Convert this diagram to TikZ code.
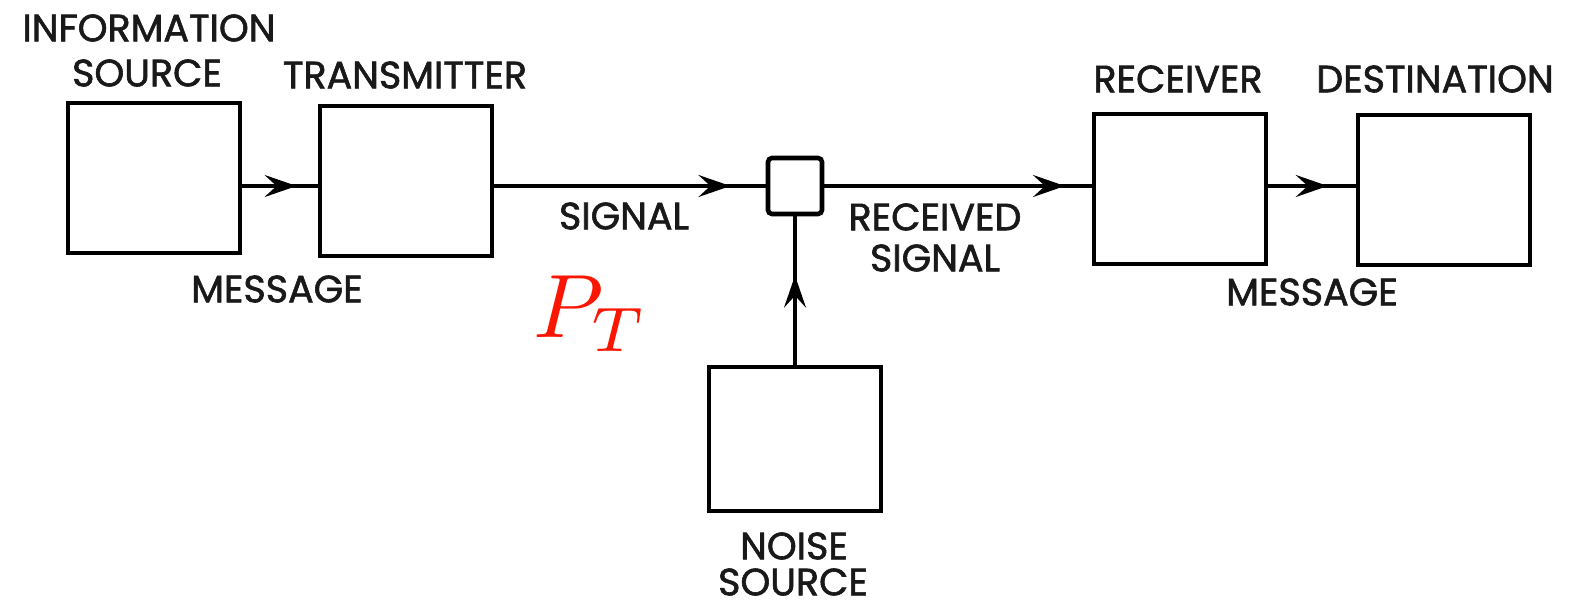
\documentclass[tikz,border=0pt]{standalone}
\usepackage{fontspec}
\setmainfont{Poppins}[FakeBold=1.6]
\usetikzlibrary{arrows.meta,calc}
\definecolor{ptred}{RGB}{250,22,0}
\begin{document}
\begin{tikzpicture}[x=0.5pt,y=-0.5pt,
  blk/.style={draw=black,line width=2.3pt,minimum width=86pt,minimum height=75pt,inner sep=0pt,fill=white},
  lbl/.style={font=\fontsize{19}{19}\selectfont,inner sep=0pt,text=black!90},
  conn/.style={line width=1.7pt},
  tip/.style={line width=1.7pt,-{Stealth[length=16pt,width=11pt,inset=6pt]}}]
\useasboundingbox (0,0) rectangle (1588,608);
% boxes
\node[blk] (is) at (154,178) {};
\node[blk] (tx) at (406,181) {};
\node[blk,minimum width=27pt,minimum height=28pt,rounded corners=2pt] (sm) at (795,186) {};
\node[blk] (rx) at (1180,189) {};
\node[blk] (ds) at (1444,190) {};
\node[blk,minimum height=72pt] (nz) at (795,439) {};
% connectors
\draw[conn] (is.east |- sm.center) -- (tx.west |- sm.center);
\draw[tip] (is.east |- sm.center) -- ($(is.east |- sm.center)!0.72!(tx.west |- sm.center)$);
\draw[conn] (tx.east |- sm.center) -- (sm.west);
\draw[tip] (tx.east |- sm.center) -- ($(tx.east |- sm.center)!0.87!(sm.west)$);
\draw[conn] (sm.east) -- (rx.west |- sm.center);
\draw[tip] (sm.east) -- ($(sm.east)!0.9!(rx.west |- sm.center)$);
\draw[conn] (rx.east |- sm.center) -- (ds.west |- sm.center);
\draw[tip] (rx.east |- sm.center) -- ($(rx.east |- sm.center)!0.68!(ds.west |- sm.center)$);
\draw[conn] (nz.north) -- (sm.south);
\draw[tip] (nz.north) -- ($(nz.north)!0.6!(sm.south)$);
% labels
\node[lbl] (t1) at (149,28) {INFORMATION};
\node[lbl] (t2) at (147,73) {SOURCE};
\node[lbl] (t3) at (405,75) {TRANSMITTER};
\node[lbl] (t4) at (277,289) {MESSAGE};
\node[lbl] (t5) at (624,216) {SIGNAL};
\node[lbl] (t6) at (935,217) {RECEIVED};
\node[lbl] (t7) at (935,258) {SIGNAL};
\node[lbl] (t8) at (794,546) {NOISE};
\node[lbl] (t9) at (793,582) {SOURCE};
\node[lbl] (t10) at (1178,79) {RECEIVER};
\node[lbl] (t11) at (1435,79) {DESTINATION};
\node[lbl] (t12) at (1312,292) {MESSAGE};
\node[anchor=base west,inner sep=0pt,text=ptred] (pt) at (533,338) {\scalebox{4.5}{$P_T$}};
\end{tikzpicture}
\end{document}
